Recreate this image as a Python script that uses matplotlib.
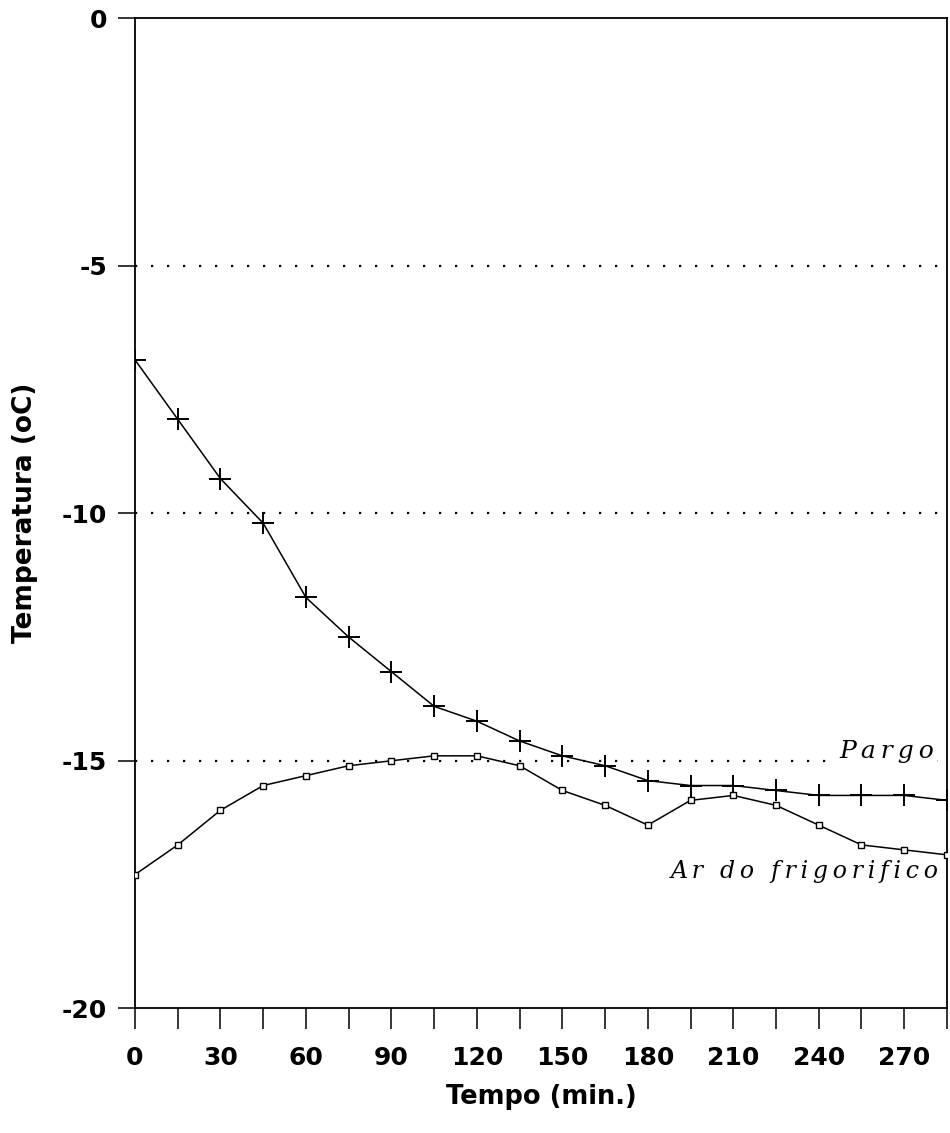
import matplotlib
matplotlib.use("Agg")
import matplotlib.pyplot as plt
from matplotlib.ticker import MultipleLocator

plt.rcParams["axes.unicode_minus"] = False

# tempo em minutos
tempo = [0, 15, 30, 45, 60, 75, 90, 105, 120, 135, 150, 165, 180,
         195, 210, 225, 240, 255, 270, 285]

# temperatura do peixe (pargo)
pargo = [-6.9, -8.1, -9.3, -10.2, -11.7, -12.5, -13.2, -13.9, -14.2, -14.6,
         -14.9, -15.1, -15.4, -15.5, -15.5, -15.6, -15.7, -15.7, -15.7, -15.8]

# temperatura do ar do frigorifico
ar_frigo = [-17.3, -16.7, -16.0, -15.5, -15.3, -15.1, -15.0, -14.9, -14.9, -15.1,
            -15.6, -15.9, -16.3, -15.8, -15.7, -15.9, -16.3, -16.7, -16.8, -16.9]

x_ticks = [0, 30, 60, 90, 120, 150, 180, 210, 240, 270]
y_ticks = [0, -5, -10, -15, -20]

fig = plt.figure(figsize=(9.5, 11.33), dpi=100)
ax = fig.add_axes([0.1421, 0.1101, 0.8547, 0.8737])

for yv in [-5, -10, -15]:
    ax.axhline(yv, color="black", lw=1.6, linestyle=(0, (1, 6.2)), zorder=1)

ax.plot(tempo, pargo, color="black", lw=1.1, marker="+", markersize=16,
        markeredgewidth=1.4, zorder=3)
ax.plot(tempo, ar_frigo, color="black", lw=1.1, marker="s", markersize=4,
        markerfacecolor="white", markeredgewidth=1.0, zorder=3)

ax.set_xlim(0, 285)
ax.set_ylim(-20, 0)
ax.set_xticks(x_ticks)
ax.xaxis.set_minor_locator(MultipleLocator(15))
ax.set_yticks(y_ticks)

for sp in ax.spines.values():
    sp.set_linewidth(1.3)

ax.tick_params(axis="x", which="both", direction="out", length=15, width=1.1, pad=12)
ax.tick_params(axis="y", which="major", direction="out", length=12, width=1.1, pad=8)
for lab in ax.get_xticklabels() + ax.get_yticklabels():
    lab.set_fontfamily("DejaVu Sans")
    lab.set_fontweight("bold")
    lab.set_fontsize(18)

ax.set_xlabel("Tempo (min.)", fontsize=18.5, fontweight="bold", labelpad=10)
ax.set_ylabel("Temperatura (oC)", fontsize=19, fontweight="bold", labelpad=17)

sp_ = "\u2009"
ax.text(264, -14.95, sp_.join("Pargo"), fontfamily="DejaVu Serif", fontstyle="italic",
        fontsize=18, ha="center", va="baseline", zorder=2,
        bbox=dict(facecolor="white", edgecolor="none", pad=2))
ax.text(282, -17.37, sp_.join("Ar do frigorifico"), fontfamily="DejaVu Serif",
        fontstyle="italic", fontsize=17, ha="right", va="baseline", zorder=2)

fig.savefig("out.png", dpi=100)
